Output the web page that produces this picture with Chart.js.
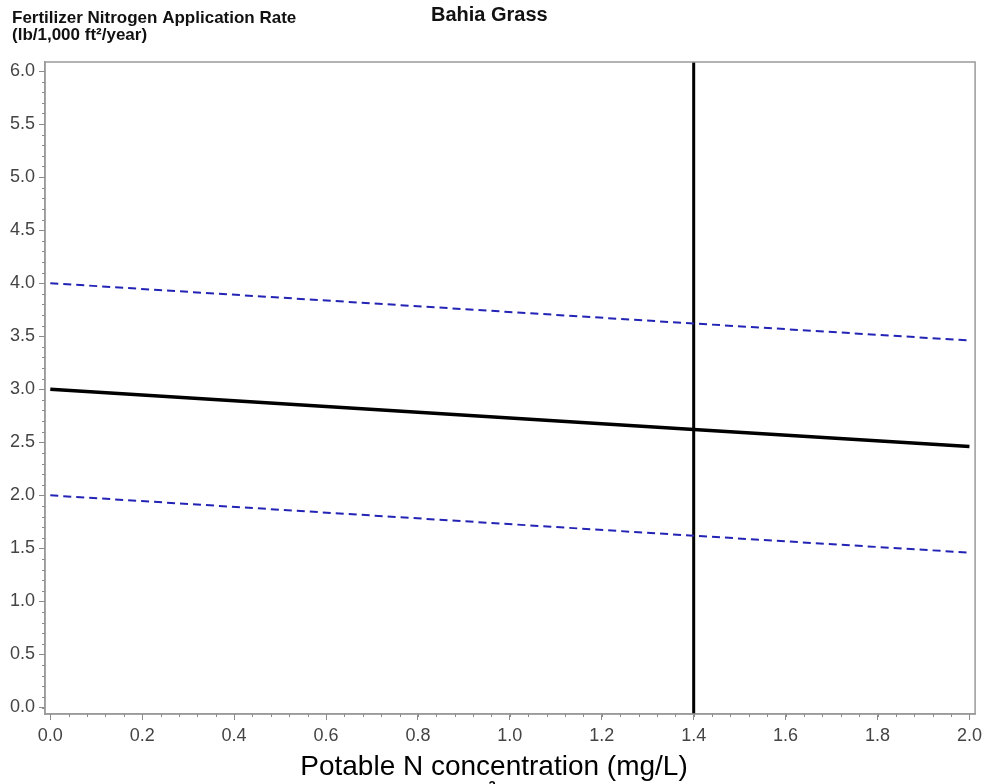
<!DOCTYPE html>
<html>
<head>
<meta charset="utf-8">
<script src="https://cdn.jsdelivr.net/npm/chart.js@4/dist/chart.umd.min.js"></script>
<style>
html, body { margin: 0; padding: 0; background: #fff; }
</style>
</head>
<body>
<canvas id="bahiaChart" width="987" height="784"></canvas>
<script>
// values
var concentration = [0.0, 1.4, 2.0];
var rateTarget = [3.0, 2.62, 2.46];
var rateUpper = [4.0, 3.62, 3.46];
var rateLower = [2.0, 1.62, 1.46];
var markerX = 1.4;

var xTicks = [0.0, 0.2, 0.4, 0.6, 0.8, 1.0, 1.2, 1.4, 1.6, 1.8, 2.0];
var yTicks = [0.0, 0.5, 1.0, 1.5, 2.0, 2.5, 3.0, 3.5, 4.0, 4.5, 5.0, 5.5, 6.0];
var xMinorStep = 0.04;
var yMinorStep = 0.1;
var xRange = [-0.0115, 2.0123];
var yRange = [-0.061, 6.085];

var FONT = "'Liberation Sans', Arial, Helvetica, sans-serif";

function toPoints(xs, ys) {
    return xs.map(function (x, i) { return { x: x, y: ys[i] }; });
}

function minorValues(lo, hi, step) {
    var out = [];
    for (var v = lo; v <= hi + 1e-9; v += step) out.push(Math.round(v * 1000) / 1000);
    return out;
}

// frame, minor ticks and the text around the plot
var decorPlugin = {
    id: 'decor',
    afterDraw: function (chart) {
        var c = chart.ctx, a = chart.chartArea;
        var xs = chart.scales.x, ys = chart.scales.y;
        c.save();
        c.strokeStyle = '#9a9a9a';
        c.lineWidth = 1.5;
        c.strokeRect(a.left, a.top, a.right - a.left, a.bottom - a.top);

        c.lineWidth = 1;
        c.strokeStyle = '#8c8c8c';
        minorValues(0, 2, xMinorStep).forEach(function (v) {
            var px = Math.round(xs.getPixelForValue(v)) + 0.5;
            c.beginPath();
            c.moveTo(px, a.bottom);
            c.lineTo(px, a.bottom + 3);
            c.stroke();
        });
        minorValues(0, 6, yMinorStep).forEach(function (v) {
            var py = Math.round(ys.getPixelForValue(v)) + 0.5;
            c.beginPath();
            c.moveTo(a.left, py);
            c.lineTo(a.left - 3, py);
            c.stroke();
        });

        c.fillStyle = '#111';
        c.textBaseline = 'alphabetic';
        c.textAlign = 'left';
        c.font = 'bold 17px ' + FONT;
        c.fillText('Fertilizer Nitrogen Application Rate', 12, 23);
        c.fillText('(lb/1,000 ft\u00B2/year)', 12, 40);

        c.font = 'bold 20px ' + FONT;
        c.fillText('Bahia Grass', 431, 21);

        c.fillStyle = '#000';
        c.textAlign = 'center';
        c.font = '28px ' + FONT;
        c.fillText('Potable N concentration (mg/L)', 494, 775);

        c.font = 'bold 13px ' + FONT;
        c.textBaseline = 'top';
        c.fillText('2', 492, 780);
        c.restore();
    }
};

var ctx = document.getElementById('bahiaChart').getContext('2d');
var chart = new Chart(ctx, {
    type: 'line',
    data: {
        datasets: [{
            label: 'Rate',
            data: toPoints(concentration, rateTarget),
            borderColor: '#000',
            borderWidth: 3.5,
            pointRadius: 0
        }, {
            label: 'Upper',
            data: toPoints(concentration, rateUpper),
            borderColor: '#2323b5',
            borderWidth: 2,
            borderDash: [8, 5],
            pointRadius: 0
        }, {
            label: 'Lower',
            data: toPoints(concentration, rateLower),
            borderColor: '#2323b5',
            borderWidth: 2,
            borderDash: [8, 5],
            pointRadius: 0
        }, {
            label: 'Marker',
            data: [{ x: markerX, y: yRange[0] }, { x: markerX, y: yRange[1] }],
            borderColor: '#000',
            borderWidth: 3,
            pointRadius: 0
        }]
    },
    options: {
        responsive: false,
        animation: false,
        layout: { padding: { top: 62, right: 9, left: 0, bottom: 0 } },
        plugins: {
            legend: { display: false },
            tooltip: { enabled: false }
        },
        scales: {
            x: {
                type: 'linear',
                min: xRange[0],
                max: xRange[1],
                afterBuildTicks: function (s) { s.ticks = xTicks.map(function (v) { return { value: v }; }); },
                afterFit: function (s) { s.height = 70; },
                grid: { drawOnChartArea: false, tickLength: 6, tickColor: '#8c8c8c' },
                border: { color: '#9a9a9a', width: 1.5 },
                ticks: {
                    color: '#444',
                    font: { family: FONT, size: 18 },
                    padding: 5,
                    maxRotation: 0,
                    autoSkip: false,
                    callback: function (v) { return Number(v).toFixed(1); }
                }
            },
            y: {
                min: yRange[0],
                max: yRange[1],
                afterBuildTicks: function (s) { s.ticks = yTicks.map(function (v) { return { value: v }; }); },
                afterFit: function (s) { s.width = 45; },
                grid: { drawOnChartArea: false, tickLength: 6, tickColor: '#8c8c8c' },
                border: { color: '#9a9a9a', width: 1.5 },
                ticks: {
                    color: '#444',
                    font: { family: FONT, size: 18 },
                    padding: 4,
                    autoSkip: false,
                    callback: function (v) { return Number(v).toFixed(1); }
                }
            }
        }
    },
    plugins: [decorPlugin]
});
</script>
</body>
</html>
